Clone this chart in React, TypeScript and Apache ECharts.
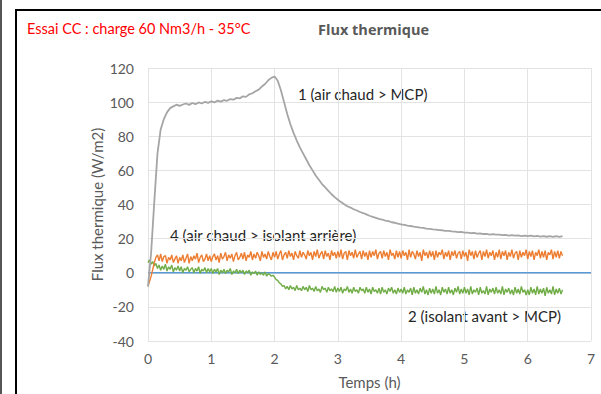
import React, { useEffect, useRef } from "react";
import * as echarts from "echarts";

const STEP_GRAY_H = 0.05;
const STEP_NOISY_H = 0.025;
const xTicks = [0, 1, 2, 3, 4, 5, 6, 7];
const yTicks = [-40, -20, 0, 20, 40, 60, 80, 100, 120];

// Flux 1 (air chaud > MCP), W/m2, one value every 0.05 h from 0 h
const flux1 = [
  -8, 12, 42, 70, 84, 90, 94, 96.5, 97.5, 98.5,
  97.8, 98.6, 99.2, 98.4, 99.5, 98.8, 99.8, 99.2, 100.2, 99.6,
  100.4, 99.8, 100.9, 100.3, 101.2, 100.8, 101.8, 101.4, 102.5, 102.2,
  103.4, 103.1, 104.6, 105.2, 106.4, 107.3, 109.2, 110.6, 112.8, 114.2,
  115, 112.5, 107, 100, 93, 87, 82, 77.5, 73.5, 70,
  66.5, 63, 60, 57, 54.5, 52, 50, 48, 46, 44.3,
  42.8, 41.4, 40.2, 39, 38.2, 37.2, 36.5, 35.6, 35, 34.2,
  33.4, 32.8, 32.2, 31.6, 31.2, 30.6, 30.2, 29.6, 29.3, 28.8,
  28.4, 28.1, 27.6, 27.4, 27, 26.8, 26.4, 26.3, 25.9, 25.7,
  25.4, 25.3, 25, 24.9, 24.5, 24.6, 24.2, 24.1, 23.8, 23.9,
  23.5, 23.5, 23.2, 23.3, 22.9, 23, 22.7, 22.8, 22.4, 22.6,
  22.3, 22.4, 22, 22.2, 21.8, 22.1, 21.7, 21.9, 21.5, 21.8,
  21.4, 21.7, 21.3, 21.6, 21.2, 21.5, 21.1, 21.4, 21, 21.4,
  21, 21.5,
];

// Flux 4 (air chaud > isolant arrière), one value every 0.025 h from 0 h
const flux4 = [
  -8, -5, -2, 2, 6, 9, 10.5, 7, 11, 6.5, 9.5, 10, 5.5, 9, 7.5, 10.5, 6, 8, 10, 5.5,
  9, 7, 10.5, 6, 8.5, 11, 5.5, 9.5, 7, 10, 8, 11.5, 6, 9, 10.5, 6.5, 8, 11, 7, 10,
  6.5, 9.5, 11, 7.5, 10, 6, 11.5, 8, 9.5, 12, 7, 10.5, 8.5, 11, 6.5, 10, 12, 7.5, 9, 11.5,
  8, 12, 7, 10.5, 9, 12.5, 7.5, 11, 8.5, 12, 10, 7, 12.5, 9, 11, 8, 12.5, 9.5, 7.5, 12,
  9, 12.5, 8, 11, 13, 7.5, 10.5, 12, 8.5, 13, 9.5, 11.5, 7.5, 12.5, 10, 8.5, 13, 9, 12, 10.5,
  8, 13, 10, 12, 7.5, 12.5, 9.5, 13.5, 8.5, 11, 12.5, 8, 13, 9.5, 11.5, 7.5, 13, 10, 12, 8.5,
  12.5, 9, 13.5, 8, 11.5, 12.5, 7.5, 13, 10, 12, 8.5, 13.5, 9, 11, 12.5, 8, 13, 9.5, 12, 7.5,
  13, 9, 12.5, 10, 13.5, 8, 11.5, 12.5, 8.5, 13, 9.5, 12, 7.5, 13.5, 10, 11.5, 8, 13, 9, 12.5,
  8.5, 13, 10, 12, 7.5, 13.5, 9, 12.5, 11, 8, 13, 9.5, 12, 7, 13.5, 10, 12, 8.5, 13, 9.5,
  12.5, 7.5, 13, 9, 12, 10.5, 13.5, 8, 12, 9.5, 13, 7.5, 12.5, 10, 13, 8.5, 11.5, 12.5, 8, 13,
  9.5, 12, 7, 13.5, 10, 12.5, 8, 13, 9, 11.5, 13, 7.5, 12.5, 9.5, 13.5, 8.5, 12, 10, 13, 7.5,
  12, 9, 13.5, 8, 12.5, 10, 13, 7.5, 12, 9.5, 13.5, 8.5, 11.5, 12.5, 7.5, 13, 9, 12, 10, 13.5,
  8, 12.5, 9.5, 13, 7.5, 12, 10, 13.5, 8.5, 12.5, 9, 13, 7.5, 12, 10.5, 13.5, 8, 12.5, 9, 13,
  8.5, 12.5, 10,
];

// Flux 2 (isolant avant > MCP), one value every 0.025 h from 0 h
const flux2 = [
  6, 7.5, 5, 6.5, 4, 5.5, 2.5, 4.5, 1.5, 4, 2, 5, 1, 3.5, 2, 4.5, 0.5, 3, 1.5, 4,
  1, 3.5, 0, 2.5, 1.5, 3.5, 0.5, 2, 3, 0, 2.5, 1, 3.5, -0.5, 2, 1, 3, 0, 2.5, 0.5,
  2.5, -0.5, 2, 0.5, 2.5, -1, 1.5, 0, 2, -0.5, 1.5, 0.5, 2.5, -1, 1, 0, 2, -0.5, 1.5, 0,
  1.5, -1, 1, 0, 1.5, -1.5, 0.5, -0.5, 1, -1.5, 0.5, -1, 0, -1.5, 0.5, -2, -0.5, -1, -2, -1.5,
  -2.5, -4, -4.5, -6, -6.5, -8, -7.5, -9.5, -8, -10, -7.5, -9.5, -8.5, -10.5, -7.5, -10, -9, -10.5, -8, -10,
  -8.5, -11, -7.5, -10, -9, -11, -8, -10.5, -9.5, -11.5, -8, -10, -9, -11.5, -8.5, -10.5, -9.5, -11, -8, -11.5,
  -9, -11, -8.5, -12, -9.5, -10.5, -8, -11.5, -9.5, -12, -8.5, -11, -10, -12, -8.5, -10.5, -9.5, -12, -8.5, -11.5,
  -9.5, -12.5, -8.5, -11, -10, -12, -9, -12.5, -8.5, -11.5, -10, -12.5, -9, -11, -8.5, -12, -10, -12.5, -9, -11.5,
  -9.5, -12, -8.5, -12.5, -10, -11.5, -9, -13, -8.5, -12, -10, -12.5, -9, -11.5, -8, -12.5, -10, -13, -9, -12,
  -9.5, -12.5, -8, -12, -10, -13, -8.5, -11.5, -9.5, -12.5, -8.5, -12, -10, -13, -9, -11.5, -8, -12.5, -9.5, -12,
  -8.5, -12, -9.5, -13, -8, -12.5, -10, -11.5, -9, -13, -8.5, -12, -10.5, -12.5, -8, -13, -9.5, -11.5, -9, -12.5,
  -8.5, -12, -10, -12.5, -8, -13, -9.5, -11.5, -9, -12.5, -10, -13, -8.5, -12, -9.5, -12.5, -8, -11.5, -10, -13,
  -10, -13, -8.5, -12, -9.5, -13, -8, -12.5, -9.5, -12, -9, -13.5, -8.5, -12, -10, -12.5, -8, -13, -9.5, -12,
  -9, -12.5, -10,
];

// Reference line at zero
const zeroLineHours = [0, 7];
const zeroLineValues = [0, 0];

const FONT = "Lato, 'Open Sans', sans-serif";

function toPairs(values: number[], step: number) {
  return values.map((v, i) => [Number((i * step).toFixed(3)), v]);
}

export default function App() {
  const ref = useRef<HTMLDivElement>(null);
  useEffect(() => {
    if (!ref.current) return;
    const chart = echarts.init(ref.current, undefined, { renderer: "svg" });
    chart.setOption({
      animation: false,
      backgroundColor: "#ffffff",
      grid: { left: 148, right: 10, top: 68, bottom: 52 },
      xAxis: {
        type: "value",
        min: xTicks[0],
        max: xTicks[xTicks.length - 1],
        interval: 1,
        name: "Temps (h)",
        nameLocation: "middle",
        nameGap: 33,
        nameMoveOverlap: false,
        nameTextStyle: { color: "#595959", fontSize: 15, fontFamily: FONT },
        axisLine: { show: false },
        axisTick: { show: false },
        axisLabel: { color: "#595959", fontSize: 14, fontFamily: FONT, margin: 10 },
        splitLine: { show: true, lineStyle: { color: "#e3e3e3", width: 1 } },
      },
      yAxis: {
        type: "value",
        min: yTicks[0],
        max: yTicks[yTicks.length - 1],
        interval: 20,
        name: "Flux thermique (W/m2)",
        nameLocation: "middle",
        nameGap: 44,
        nameMoveOverlap: false,
        nameTextStyle: { color: "#595959", fontSize: 15, fontFamily: FONT },
        axisLine: { show: false },
        axisTick: { show: false },
        axisLabel: { color: "#595959", fontSize: 14, fontFamily: FONT, margin: 14 },
        splitLine: { show: true, lineStyle: { color: "#e3e3e3", width: 1 } },
      },
      series: [
        {
          type: "line",
          name: "0",
          data: zeroLineHours.map((h, i) => [h, zeroLineValues[i]]),
          symbol: "none",
          lineStyle: { color: "#5b9bd5", width: 1.5 },
        },
        {
          type: "line",
          name: "2",
          data: toPairs(flux2, STEP_NOISY_H),
          symbol: "none",
          lineStyle: { color: "#70ad47", width: 1.4 },
        },
        {
          type: "line",
          name: "4",
          data: toPairs(flux4, STEP_NOISY_H),
          symbol: "none",
          lineStyle: { color: "#ed7d31", width: 1.4 },
        },
        {
          type: "line",
          name: "1",
          data: toPairs(flux1, STEP_GRAY_H),
          symbol: "none",
          lineStyle: { color: "#a5a5a5", width: 1.8 },
        },
      ],
      graphic: [
        { type: "rect", shape: { x: 0, y: 0, width: 2, height: 394 }, style: { fill: "#555" } },
        { type: "rect", shape: { x: 15, y: 9, width: 2, height: 385 }, style: { fill: "#000" } },
        { type: "rect", shape: { x: 15, y: 9, width: 586, height: 2 }, style: { fill: "#000" } },
        {
          type: "text",
          x: 27,
          y: 28,
          style: {
            text: "Essai CC : charge 60 Nm3/h - 35°C",
            fill: "#ff0000",
            font: `14.5px ${FONT}`,
            verticalAlign: "middle",
          },
        },
        {
          type: "text",
          x: 318,
          y: 29,
          style: {
            text: "Flux thermique",
            fill: "#595959",
            font: `bold 14.5px 'Open Sans', sans-serif`,
            verticalAlign: "middle",
          },
        },
        {
          type: "text",
          x: 298,
          y: 94,
          style: { text: "1 (air chaud > MCP)", fill: "#262626", font: `15px ${FONT}`, verticalAlign: "middle" },
        },
        {
          type: "text",
          x: 170,
          y: 235,
          style: { text: "4 (air chaud > isolant arrière)", fill: "#262626", font: `15px ${FONT}`, verticalAlign: "middle" },
        },
        {
          type: "text",
          x: 408,
          y: 316,
          style: { text: "2 (isolant avant > MCP)", fill: "#262626", font: `15px ${FONT}`, verticalAlign: "middle" },
        },
      ],
    });
    return () => chart.dispose();
  }, []);
  return (
    <div
      ref={ref}
      style={{ position: "absolute", left: 0, top: 0, width: 601, height: 394 }}
    />
  );
}
